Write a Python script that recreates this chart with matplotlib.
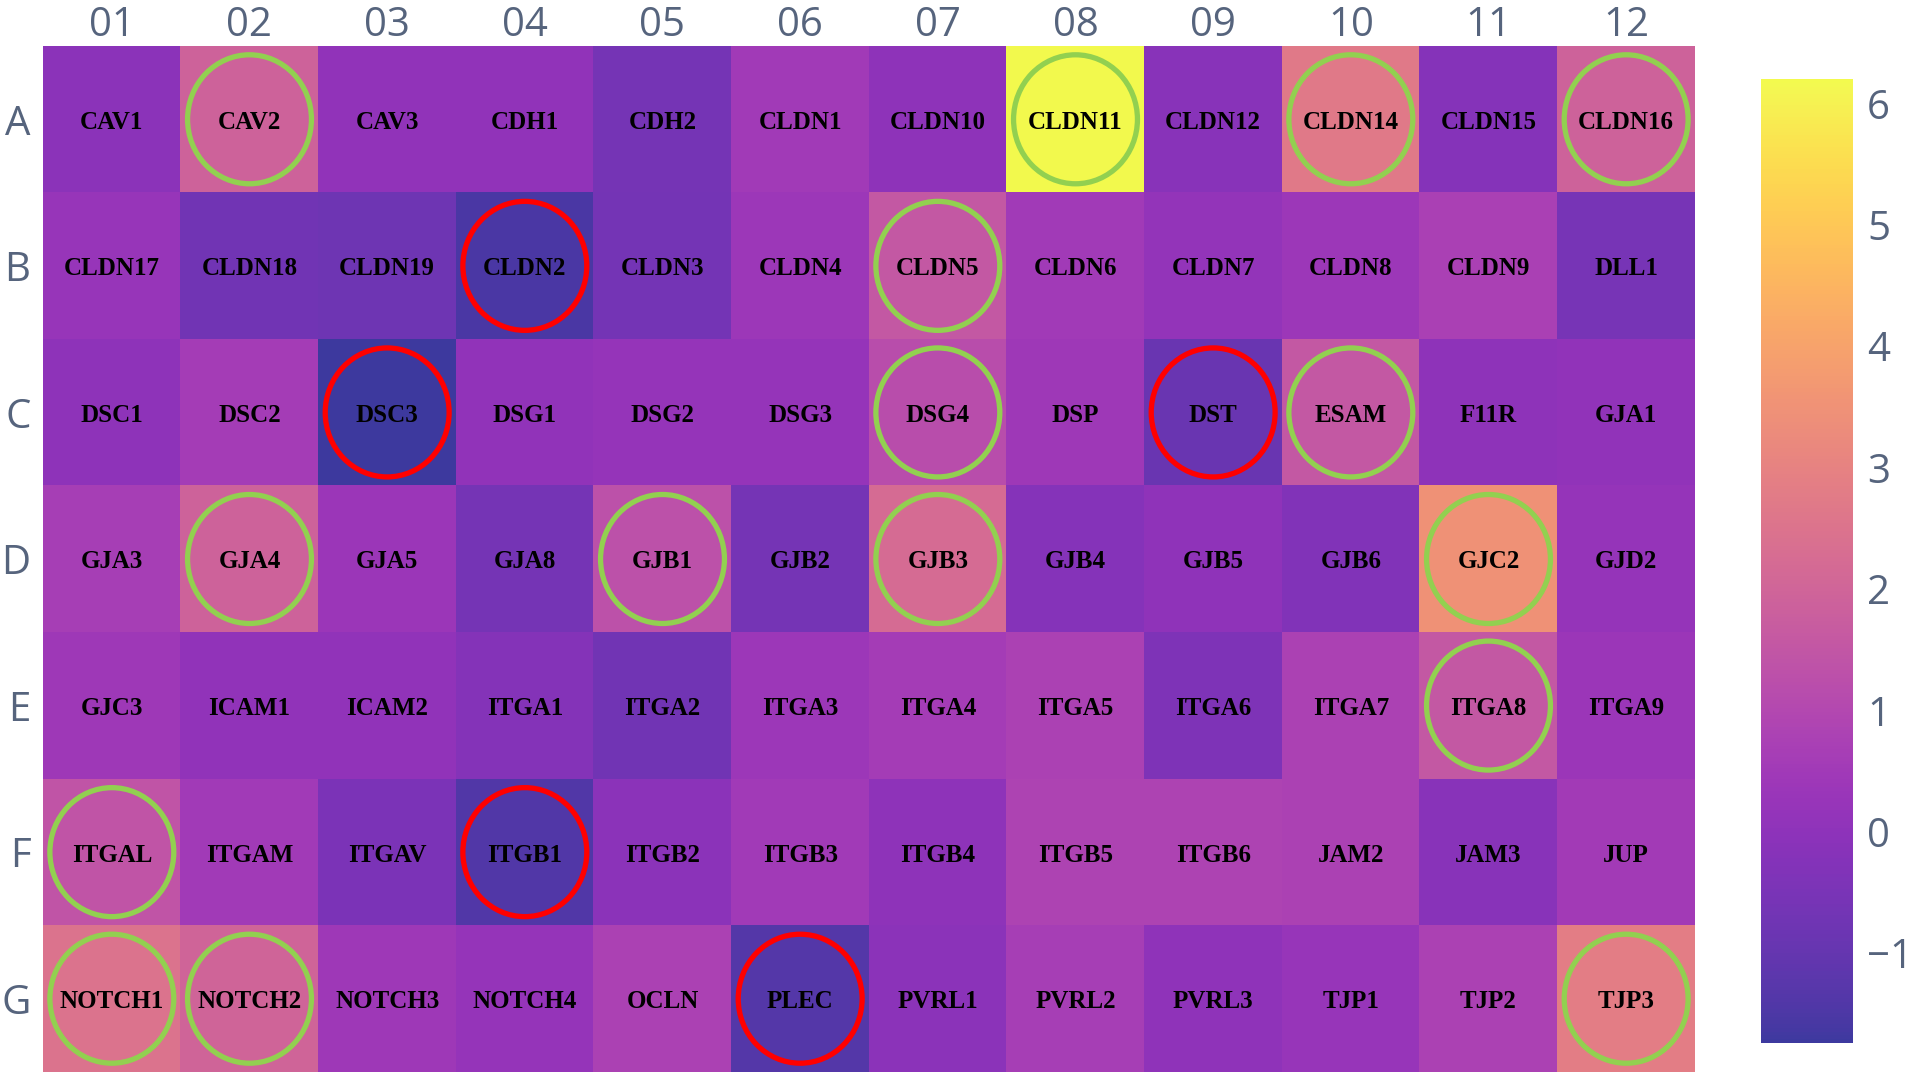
import numpy as np
import matplotlib
matplotlib.use('Agg')
import matplotlib.pyplot as plt
from matplotlib.colors import ListedColormap
from matplotlib.patches import Ellipse

rows = ['A', 'B', 'C', 'D', 'E', 'F', 'G']
cols = ['01', '02', '03', '04', '05', '06', '07', '08', '09', '10', '11', '12']

genes = [
    ['CAV1', 'CAV2', 'CAV3', 'CDH1', 'CDH2', 'CLDN1', 'CLDN10', 'CLDN11', 'CLDN12', 'CLDN14', 'CLDN15', 'CLDN16'],
    ['CLDN17', 'CLDN18', 'CLDN19', 'CLDN2', 'CLDN3', 'CLDN4', 'CLDN5', 'CLDN6', 'CLDN7', 'CLDN8', 'CLDN9', 'DLL1'],
    ['DSC1', 'DSC2', 'DSC3', 'DSG1', 'DSG2', 'DSG3', 'DSG4', 'DSP', 'DST', 'ESAM', 'F11R', 'GJA1'],
    ['GJA3', 'GJA4', 'GJA5', 'GJA8', 'GJB1', 'GJB2', 'GJB3', 'GJB4', 'GJB5', 'GJB6', 'GJC2', 'GJD2'],
    ['GJC3', 'ICAM1', 'ICAM2', 'ITGA1', 'ITGA2', 'ITGA3', 'ITGA4', 'ITGA5', 'ITGA6', 'ITGA7', 'ITGA8', 'ITGA9'],
    ['ITGAL', 'ITGAM', 'ITGAV', 'ITGB1', 'ITGB2', 'ITGB3', 'ITGB4', 'ITGB5', 'ITGB6', 'JAM2', 'JAM3', 'JUP'],
    ['NOTCH1', 'NOTCH2', 'NOTCH3', 'NOTCH4', 'OCLN', 'PLEC', 'PVRL1', 'PVRL2', 'PVRL3', 'TJP1', 'TJP2', 'TJP3'],
]

values = [
    [-0.05, 1.9, 0.1, 0.1, -0.6, 0.5, 0.0, 6.2, -0.15, 2.7, -0.2, 1.9],
    [0.25, -0.7, -0.75, -1.55, -0.65, 0.4, 1.55, 0.5, 0.15, 0.4, 0.75, -0.55],
    [0.0, 0.6, -1.74, 0.1, 0.2, 0.2, 1.2, 0.45, -0.9, 1.55, 0.0, 0.1],
    [0.65, 1.9, 0.35, -0.6, 1.3, -0.6, 2.2, -0.2, 0.05, -0.3, 3.5, 0.2],
    [0.45, 0.1, 0.1, -0.25, -0.7, 0.4, 0.6, 0.8, -0.4, 0.8, 1.55, 0.35],
    [1.45, 0.5, -0.45, -1.4, -0.05, 0.5, 0.0, 0.85, 0.85, 0.8, -0.15, 0.55],
    [2.5, 2.0, 0.45, 0.2, 0.8, -1.35, -0.05, 0.65, 0.05, 0.25, 0.8, 2.85],
]

up_genes = ['CAV2', 'CLDN11', 'CLDN14', 'CLDN16', 'CLDN5', 'DSG4', 'ESAM', 'GJA4', 'GJB1',
            'GJB3', 'GJC2', 'ITGA8', 'ITGAL', 'NOTCH1', 'NOTCH2', 'TJP3']
down_genes = ['CLDN2', 'DSC3', 'DST', 'ITGB1', 'PLEC']

z = np.array(values)

# plasma seen through 0.8 opacity on white
base = plt.get_cmap('plasma')(np.linspace(0, 1, 256))
base[:, :3] = base[:, :3] * 0.8 + 0.2
cmap = ListedColormap(base)

fig = plt.figure(figsize=(19.15, 10.72), dpi=100)
ax = fig.add_axes([43 / 1915, 0.0, 1652 / 1915, 1026 / 1072])

im = ax.imshow(z, cmap=cmap, vmin=z.min(), vmax=z.max(), aspect='auto',
               interpolation='nearest')

for i, row in enumerate(genes):
    for j, g in enumerate(row):
        ax.text(j, i + 0.02, g, ha='center', va='center', fontsize=18, fontweight='bold',
                family='Liberation Serif', color='black')
        if g in up_genes or g in down_genes:
            c = '#92d050' if g in up_genes else '#ff0000'
            ax.add_patch(Ellipse((j, i), 0.9, 0.88, fill=False, edgecolor=c, linewidth=3.8))

ax.set_xticks(range(len(cols)))
ax.set_xticklabels(cols)
ax.set_yticks(range(len(rows)))
ax.set_yticklabels(rows)
ax.xaxis.tick_top()
ax.tick_params(length=0, labelsize=29, labelcolor='#56647d', pad=0)
ax.tick_params(axis='y', pad=9)
for lab in ax.get_xticklabels() + ax.get_yticklabels():
    lab.set_family('Open Sans')
for s in ax.spines.values():
    s.set_visible(False)

cax = fig.add_axes([1761 / 1915, 29 / 1072, 92 / 1915, 964 / 1072])
cb = fig.colorbar(im, cax=cax)
cb.outline.set_visible(False)
cb.set_ticks([-1, 0, 1, 2, 3, 4, 5, 6])
cax.tick_params(length=0, labelsize=29, labelcolor='#56647d', pad=10)
for lab in cax.get_yticklabels():
    lab.set_family('Open Sans')

fig.savefig('out.png', dpi=100)
